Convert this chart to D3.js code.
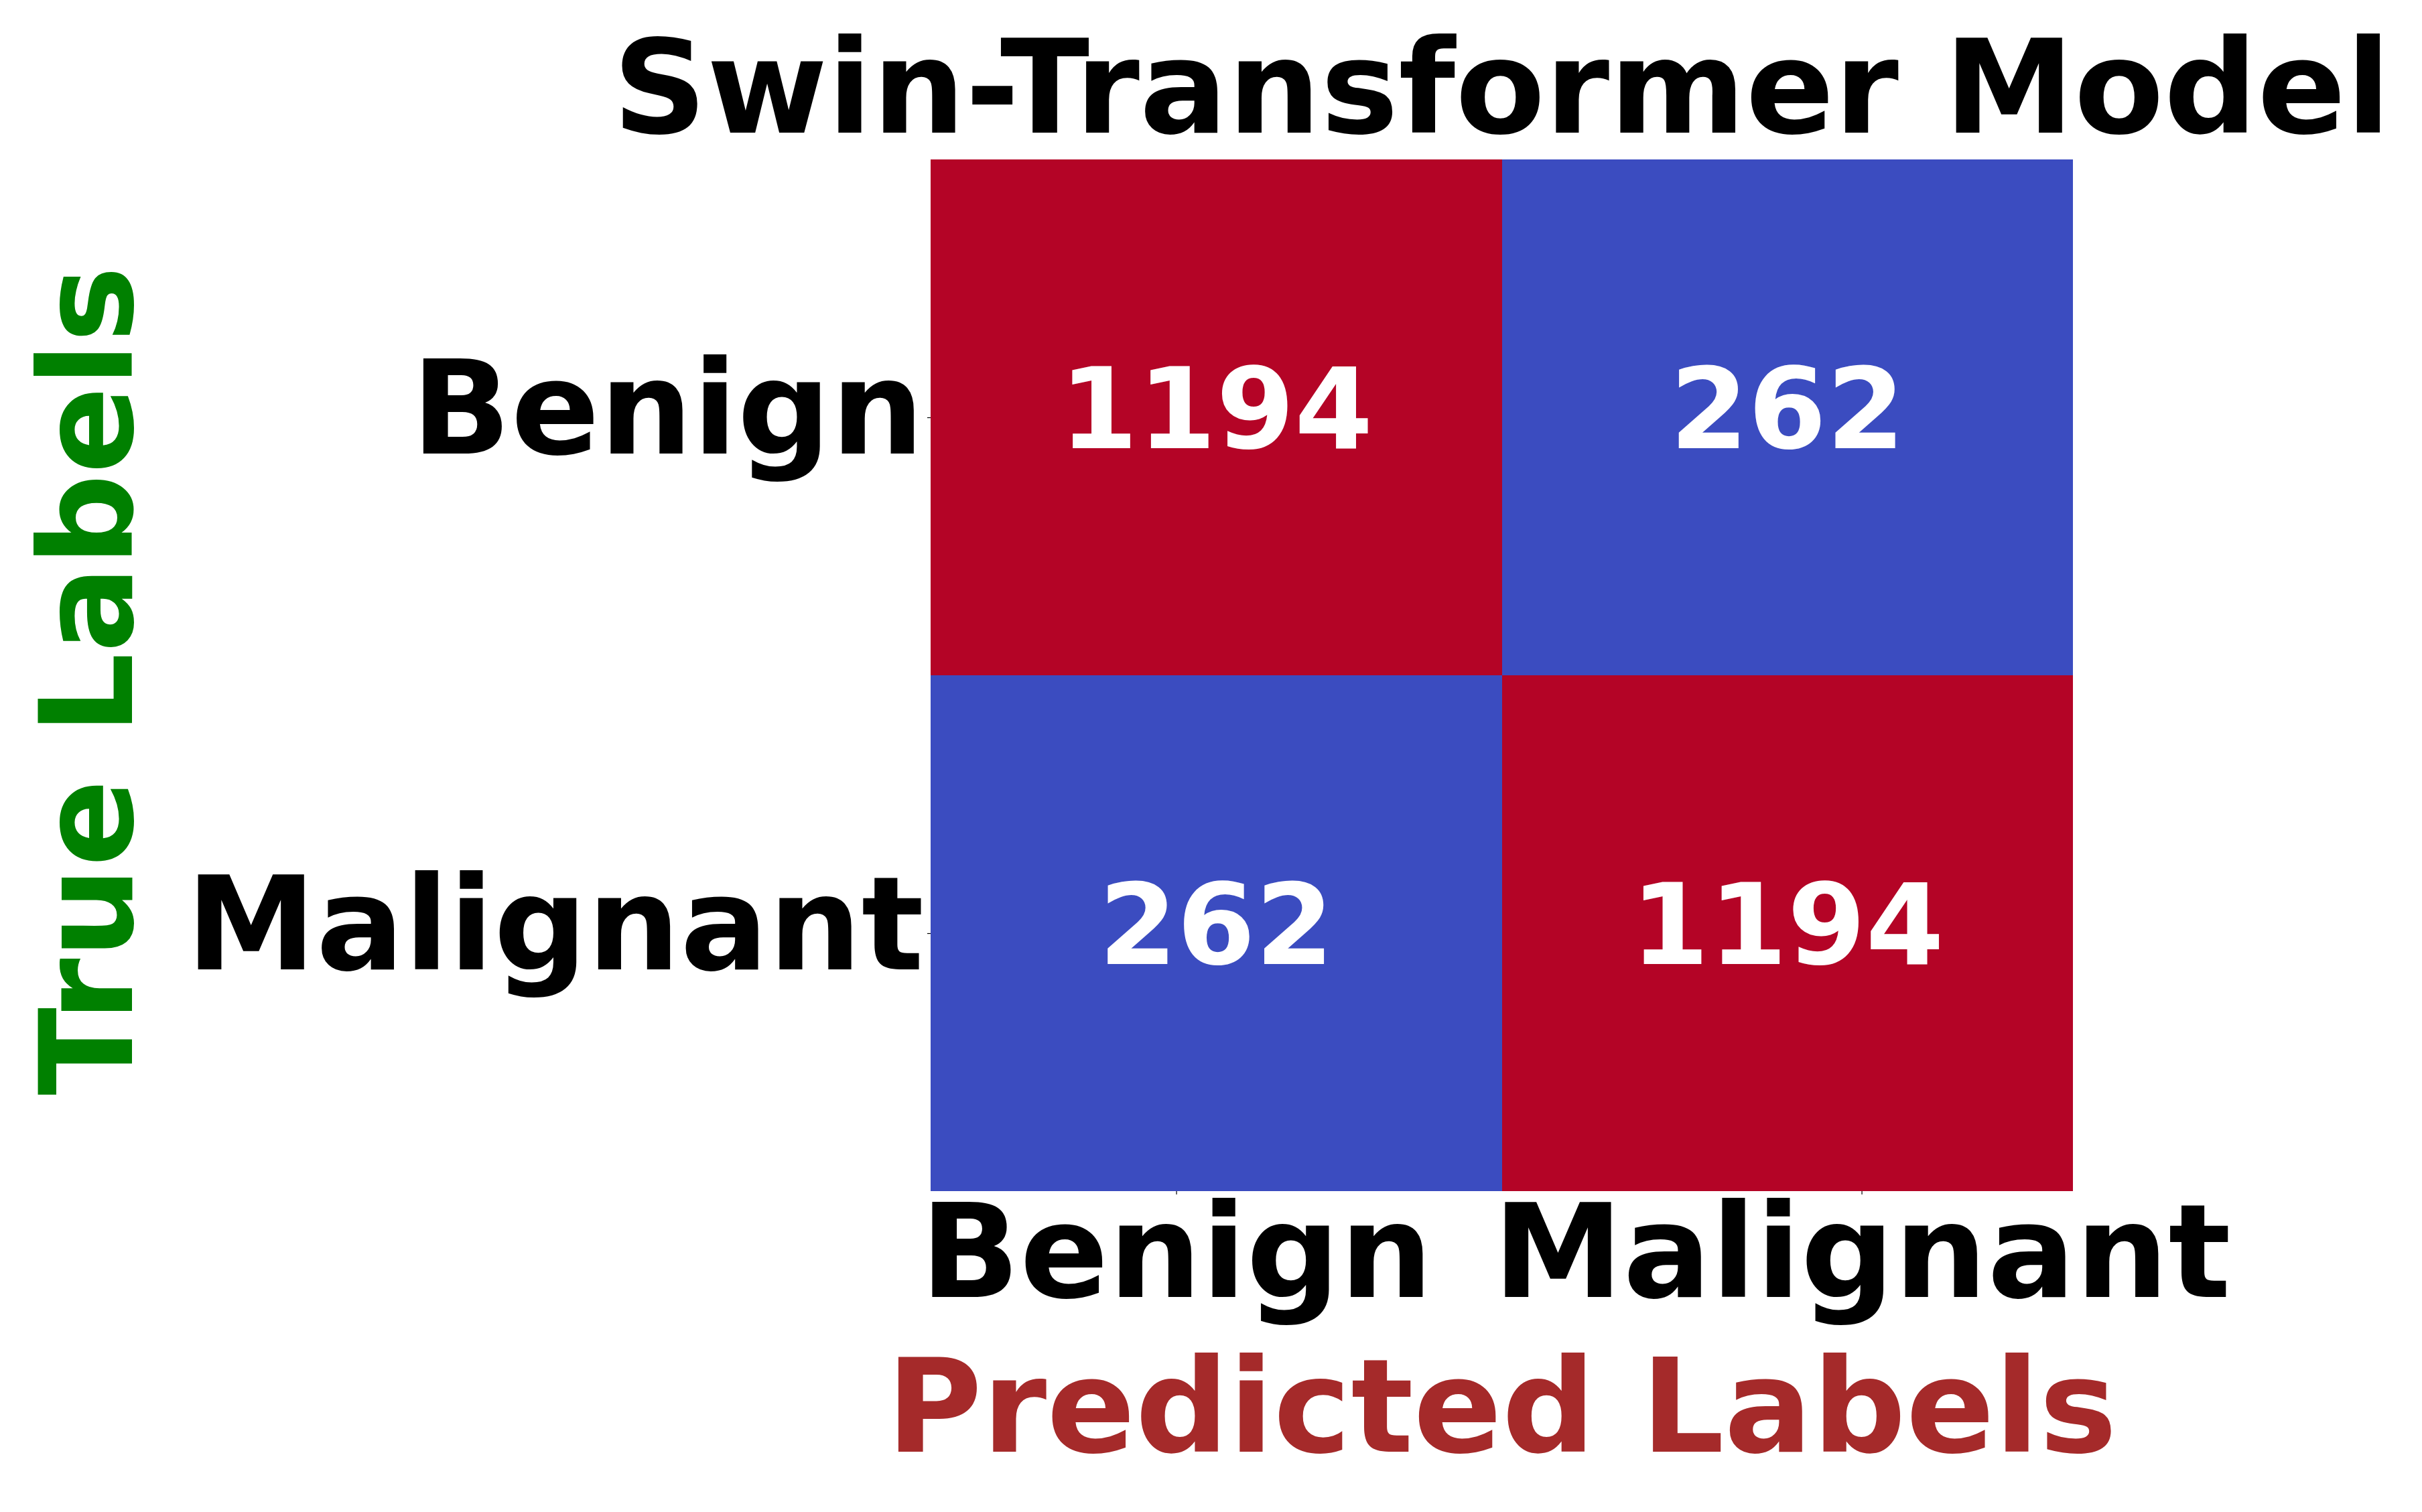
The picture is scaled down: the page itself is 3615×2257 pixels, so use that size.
<!DOCTYPE html>
<html>
<head>
<meta charset="utf-8">
<script src="https://cdn.jsdelivr.net/npm/d3@7"></script>
<style>
  html, body { margin: 0; padding: 0; background: #ffffff; }
  svg { display: block; }
  text { font-family: "DejaVu Sans", sans-serif; font-weight: bold; }
</style>
</head>
<body>
<script>
// ---- data ----
const trueLabels = ["Benign", "Malignant"];
const predictedLabels = ["Benign", "Malignant"];
const rowBenign = [1194, 262];
const rowMalignant = [262, 1194];
const xTickValues = [0.43, 1.63];   // tick locations on the predicted axis (data units)
const yTickValues = [0.5, 1.5];
const titleText = "Swin-Transformer Model";
const xLabelText = "Predicted Labels";
const yLabelText = "True Labels";

const matrix = [rowBenign, rowMalignant];

// ---- layout ----
const W = 3615, H = 2257;
const plotL = 1389, plotR = 3094, plotT = 238, plotB = 1778;
const fs = 195, numFs = 168, yLabFs = 192;

const svg = d3.select("body").append("svg")
  .attr("width", W).attr("height", H)
  .attr("viewBox", `0 0 ${W} ${H}`);

svg.append("rect").attr("width", W).attr("height", H).attr("fill", "#ffffff");

const x = d3.scaleLinear().domain([0, predictedLabels.length]).range([plotL, plotR]);
const y = d3.scaleLinear().domain([0, trueLabels.length]).range([plotT, plotB]);

const allVals = matrix.flat();
const color = d3.scaleLinear()
  .domain([d3.min(allVals), d3.max(allVals)])
  .range(["#3b4cc0", "#b40426"]);

const cells = [];
matrix.forEach((row, i) => row.forEach((v, j) => cells.push({ i, j, v })));

svg.append("g").selectAll("rect").data(cells).join("rect")
  .attr("x", d => x(d.j))
  .attr("y", d => y(d.i))
  .attr("width", d => x(d.j + 1) - x(d.j))
  .attr("height", d => y(d.i + 1) - y(d.i))
  .attr("fill", d => color(d.v))
  .attr("shape-rendering", "crispEdges");

svg.append("g").selectAll("text").data(cells).join("text")
  .attr("x", d => (x(d.j) + x(d.j + 1)) / 2)
  .attr("y", d => (y(d.i) + y(d.i + 1)) / 2 + 46)
  .attr("text-anchor", "middle")
  .attr("font-size", numFs)
  .attr("fill", "#ffffff")
  .text(d => d.v);

// ---- axes ----
const xAxis = d3.axisBottom(x)
  .tickValues(xTickValues)
  .tickFormat((d, k) => predictedLabels[k])
  .tickSize(5).tickPadding(0);
const gx = svg.append("g").attr("transform", `translate(0,${plotB})`).call(xAxis);
gx.select(".domain").remove();
gx.selectAll(".tick line").attr("stroke", "#000").attr("stroke-width", 1.2);
gx.selectAll(".tick text")
  .attr("font-size", fs).attr("font-family", "DejaVu Sans").attr("font-weight", "bold")
  .attr("fill", "#000").attr("dy", null).attr("y", 1936 - plotB);

const yAxis = d3.axisLeft(y)
  .tickValues(yTickValues)
  .tickFormat((d, k) => trueLabels[k])
  .tickSize(5).tickPadding(5);
const gy = svg.append("g").attr("transform", `translate(${plotL},0)`).call(yAxis);
gy.select(".domain").remove();
gy.selectAll(".tick line").attr("stroke", "#000").attr("stroke-width", 1.2);
gy.selectAll(".tick text")
  .attr("font-size", fs).attr("font-family", "DejaVu Sans").attr("font-weight", "bold")
  .attr("fill", "#000").attr("dy", null).attr("y", 53);

// ---- titles ----
const cx = (plotL + plotR) / 2;
svg.append("text")
  .attr("x", cx).attr("y", 198)
  .attr("text-anchor", "middle")
  .attr("font-size", fs).attr("fill", "#000")
  .text(titleText);

svg.append("text")
  .attr("x", cx).attr("y", 2167)
  .attr("text-anchor", "middle")
  .attr("font-size", fs).attr("fill", "#a52a2a")
  .text(xLabelText);

svg.append("text")
  .attr("transform", `translate(197,${(plotT + plotB) / 2 + 8}) rotate(-90)`)
  .attr("text-anchor", "middle")
  .attr("font-size", yLabFs).attr("fill", "#008000")
  .text(yLabelText);
</script>
</body>
</html>
